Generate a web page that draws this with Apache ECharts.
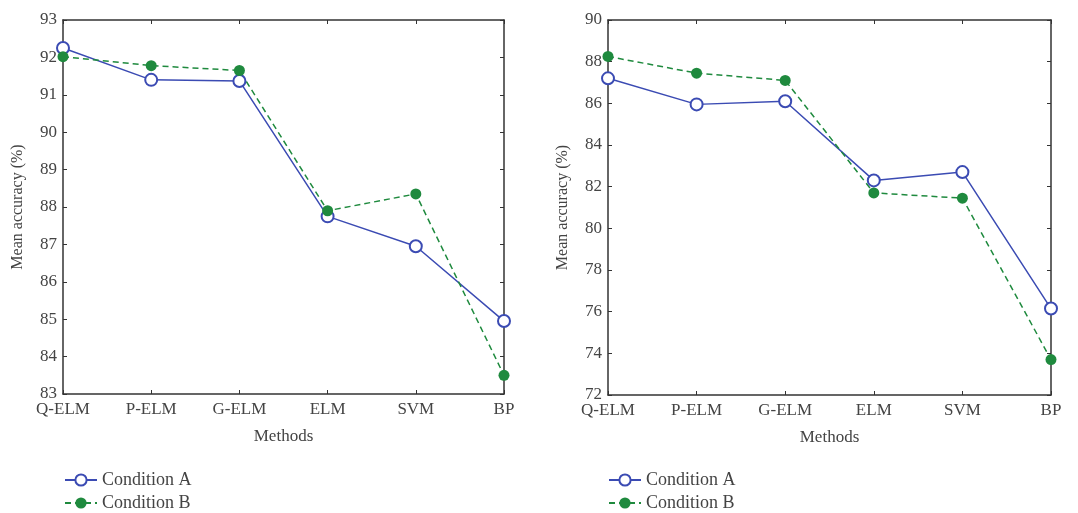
<!DOCTYPE html>
<html><head><meta charset="utf-8">
<script src="https://cdn.jsdelivr.net/npm/echarts@6/dist/echarts.min.js"></script>
<style>html,body{margin:0;padding:0;background:#fff}#c{width:1078px;height:513px}</style>
</head><body><div id="c"></div>
<script>
const categories = ['Q-ELM', 'P-ELM', 'G-ELM', 'ELM', 'SVM', 'BP'];
const leftA = [92.25, 91.4, 91.37, 87.75, 86.95, 84.95];
const leftB = [92.02, 91.78, 91.65, 87.9, 88.35, 83.5];
const rightA = [87.2, 85.95, 86.1, 82.3, 82.7, 76.15];
const rightB = [88.25, 87.45, 87.1, 81.7, 81.45, 73.7];
const leftTicks = {min: 83, max: 93, interval: 1};
const rightTicks = {min: 72, max: 90, interval: 2};

const FONT = 'Liberation Serif';
const TXT = '#444';
const BLUE = '#3b4bb3';
const GREEN = '#1f8a3e';
const axisLine = {show: true, lineStyle: {color: '#333', width: 1.5}};
const tick = {show: true, inside: true, length: 4, lineStyle: {color: '#333'}};

function xAxes(gi) {
  return [
    {type: 'category', gridIndex: gi, data: categories, boundaryGap: false, position: 'bottom',
     axisLine, axisTick: {...tick, alignWithLabel: true},
     axisLabel: {fontFamily: FONT, fontSize: 17, color: TXT, margin: 7},
     name: 'Methods', nameLocation: 'middle', nameGap: 34,
     nameTextStyle: {fontFamily: FONT, fontSize: 17, color: TXT}},
    {type: 'category', gridIndex: gi, data: categories, boundaryGap: false, position: 'top',
     axisLine, axisTick: tick, axisLabel: {show: false}}
  ];
}
function yAxes(gi, t) {
  return [
    {type: 'value', gridIndex: gi, min: t.min, max: t.max, interval: t.interval, position: 'left',
     axisLine, axisTick: tick, splitLine: {show: false},
     axisLabel: {fontFamily: FONT, fontSize: 17, color: TXT, margin: 6},
     name: 'Mean accuracy (%)', nameLocation: 'middle', nameGap: 37,
     nameTextStyle: {fontFamily: FONT, fontSize: 16, color: TXT}},
    {type: 'value', gridIndex: gi, min: t.min, max: t.max, interval: t.interval, position: 'right',
     axisLine, axisTick: tick, splitLine: {show: false}, axisLabel: {show: false}}
  ];
}
function seriesA(gi, data) {
  return {name: 'Condition A', type: 'line', xAxisIndex: gi * 2, yAxisIndex: gi * 2, data,
    symbol: 'emptyCircle', symbolSize: 12, color: BLUE,
    lineStyle: {color: BLUE, width: 1.5}, itemStyle: {color: BLUE, borderColor: BLUE, borderWidth: 1.5}};
}
function seriesB(gi, data) {
  return {name: 'Condition B', type: 'line', xAxisIndex: gi * 2, yAxisIndex: gi * 2, data,
    symbol: 'circle', symbolSize: 11, color: GREEN,
    lineStyle: {color: GREEN, width: 1.5, type: [6, 4]}, itemStyle: {color: GREEN}};
}
function legend(left) {
  return {left, bottom: 1, orient: 'vertical', padding: 0, itemGap: 5, itemWidth: 32, itemHeight: 14,
    textStyle: {fontFamily: FONT, fontSize: 18, color: TXT},
    data: ['Condition A', 'Condition B']};
}

const chart = echarts.init(document.getElementById('c'), null, {renderer: 'canvas'});
chart.setOption({
  animation: false,
  grid: [
    {left: 63, top: 20, width: 441, height: 374},
    {left: 608, top: 20, width: 443, height: 375}
  ],
  xAxis: [...xAxes(0), ...xAxes(1)],
  yAxis: [...yAxes(0, leftTicks), ...yAxes(1, rightTicks)],
  legend: [legend(64), legend(608)],
  series: [seriesA(0, leftA), seriesB(0, leftB), seriesA(1, rightA), seriesB(1, rightB)]
});
</script></body></html>
